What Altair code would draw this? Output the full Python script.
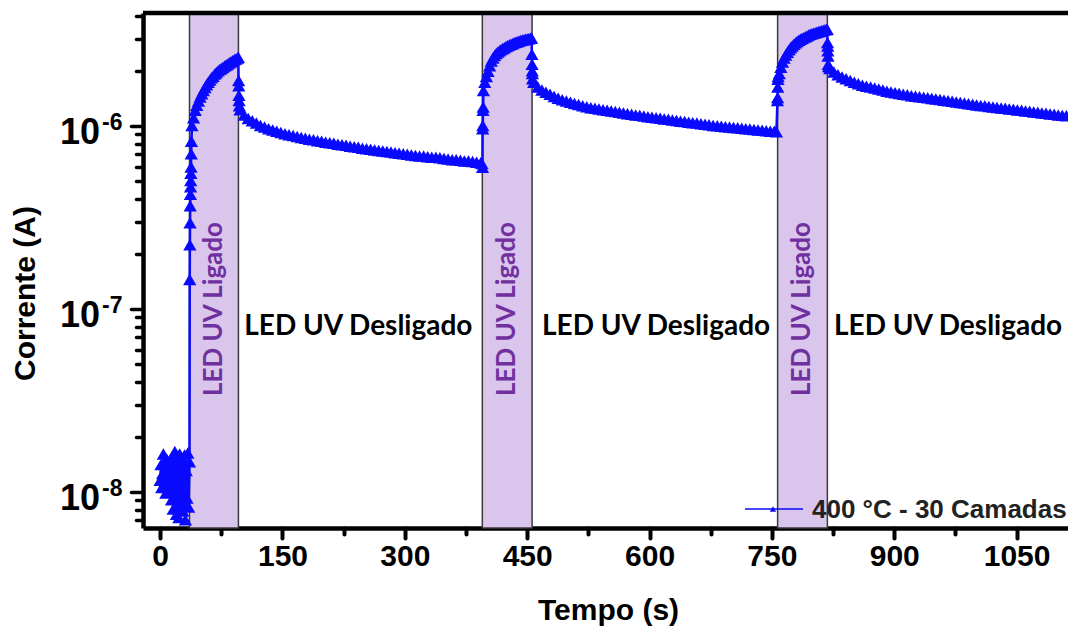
import numpy as np
import pandas as pd
import altair as alt

SERIE = "400 °C - 30 Camadas"
BLUE = "#0a0aff"
PURPLE = "#7030a0"

# ---------------------------------------------------------------------------
# Photocurrent record, time in s and current in µA
# ---------------------------------------------------------------------------
# dark current before the first UV pulse
t_dark = np.arange(0, 37, 1.0)
i_dark = [0.0115, 0.0140, 0.0105, 0.0125, 0.0160, 0.0110, 0.0130, 0.0098, 0.0150, 0.0120,
          0.0135, 0.0102, 0.0145, 0.0118, 0.0090, 0.0155, 0.0080, 0.0125, 0.0165, 0.0095,
          0.0075, 0.0140, 0.0110, 0.0072, 0.0160, 0.0100, 0.0085, 0.0150, 0.0078, 0.0120,
          0.0158, 0.0070, 0.0130, 0.0092, 0.0162, 0.0082, 0.0145]

# pulse 1 : LED switched on
t_jump1 = [36.3, 36.5, 36.7, 36.9, 37.1, 37.3, 37.5, 37.7, 37.9, 38.1, 38.4]
i_jump1 = [0.144, 0.223, 0.294, 0.364, 0.420, 0.462, 0.500, 0.548, 0.593, 0.70, 0.82]
t_rise1 = np.arange(39, 96, 2)
i_rise1 = [1.00, 1.10, 1.21, 1.29, 1.36, 1.43, 1.49, 1.55, 1.61, 1.67,
           1.72, 1.77, 1.82, 1.86, 1.91, 1.95, 1.99, 2.02, 2.05, 2.08,
           2.11, 2.14, 2.17, 2.20, 2.23, 2.26, 2.29, 2.31, 2.34]
# pulse 1 : LED switched off
t_drop1 = [95.8, 96.2, 96.4, 96.6, 96.8, 97.1]
i_drop1 = [2.36, 1.76, 1.65, 1.46, 1.37, 1.28]
t_decay1 = np.arange(98, 394, 5)
i_decay1 = [1.22, 1.14, 1.09, 1.06, 1.03, 1.00, 0.98, 0.96, 0.945, 0.93,
            0.915, 0.90, 0.89, 0.88, 0.87, 0.86, 0.85, 0.84, 0.835, 0.825,
            0.82, 0.81, 0.805, 0.80, 0.79, 0.785, 0.78, 0.77, 0.765, 0.76,
            0.75, 0.745, 0.74, 0.735, 0.73, 0.725, 0.72, 0.715, 0.71, 0.705,
            0.70, 0.695, 0.69, 0.685, 0.68, 0.68, 0.675, 0.67, 0.67, 0.665,
            0.66, 0.655, 0.65, 0.65, 0.645, 0.64, 0.64, 0.635, 0.63, 0.625]

# pulse 2
t_jump2 = [394.6, 395.2, 395.4, 395.6, 395.8, 396.0, 396.3]
i_jump2 = [0.62, 0.59, 0.96, 1.00, 1.21, 1.26, 1.55]
t_rise2 = np.arange(398, 455, 2)
i_rise2 = [1.72, 1.85, 1.98, 2.12, 2.25, 2.34, 2.41, 2.47, 2.52, 2.56,
           2.60, 2.63, 2.66, 2.70, 2.73, 2.75, 2.78, 2.80, 2.83, 2.85,
           2.87, 2.89, 2.91, 2.93, 2.94, 2.96, 2.97, 2.98, 3.00]
t_drop2 = [455.3, 455.8, 456.0, 456.2, 456.4, 456.6]
i_drop2 = [3.01, 2.45, 2.16, 1.99, 1.92, 1.80]
t_decay2 = np.arange(458, 754, 5)
i_decay2 = [1.72, 1.62, 1.56, 1.52, 1.48, 1.44, 1.41, 1.38, 1.36, 1.34,
            1.32, 1.30, 1.28, 1.265, 1.25, 1.24, 1.23, 1.22, 1.21, 1.20,
            1.19, 1.18, 1.17, 1.16, 1.15, 1.14, 1.135, 1.125, 1.115, 1.11,
            1.10, 1.095, 1.085, 1.08, 1.07, 1.065, 1.055, 1.05, 1.04, 1.035,
            1.03, 1.02, 1.015, 1.01, 1.00, 0.995, 0.99, 0.985, 0.98, 0.975,
            0.97, 0.965, 0.96, 0.955, 0.95, 0.945, 0.94, 0.935, 0.93, 0.93]

# pulse 3
t_jump3 = [755.5, 756.8, 757.0, 757.2, 757.4, 757.7]
i_jump3 = [0.925, 1.37, 1.42, 1.62, 1.79, 1.85]
t_rise3 = np.arange(759, 818, 2)
i_rise3 = [1.92, 2.08, 2.22, 2.34, 2.43, 2.51, 2.59, 2.66, 2.72, 2.78,
           2.83, 2.88, 2.92, 2.96, 2.99, 3.02, 3.05, 3.08, 3.12, 3.15,
           3.17, 3.19, 3.21, 3.23, 3.25, 3.27, 3.29, 3.31, 3.33, 3.35]
t_drop3 = [817.8, 818.2, 818.4, 818.6, 818.8, 819.0, 819.5]
i_drop3 = [3.36, 2.84, 2.72, 2.56, 2.40, 2.16, 2.10]
t_decay3 = np.arange(821, 1112, 5)
i_decay3 = [2.05, 1.96, 1.89, 1.84, 1.80, 1.76, 1.72, 1.69, 1.66, 1.64,
            1.62, 1.60, 1.58, 1.56, 1.54, 1.525, 1.51, 1.495, 1.48, 1.47,
            1.455, 1.445, 1.435, 1.425, 1.415, 1.405, 1.395, 1.385, 1.375, 1.365,
            1.355, 1.345, 1.335, 1.325, 1.315, 1.305, 1.295, 1.285, 1.28, 1.27,
            1.26, 1.255, 1.245, 1.24, 1.23, 1.225, 1.215, 1.21, 1.20, 1.195,
            1.185, 1.18, 1.17, 1.165, 1.155, 1.15, 1.14, 1.135, 1.13]

# UV LED on-windows (s)
on_start = [36, 395, 757]
on_end = [96, 456, 818]

# annotation texts
on_label = "LED UV Ligado"
off_label = "LED UV Desligado"
off_label_x = [243, 608, 966]
off_label_y = 8.0e-8
on_label_y = 1.0e-7

# axis ticks
x_ticks = list(range(0, 1051, 75))
y_decades = [1e-8, 1e-7, 1e-6]
y_exponents = ["-8", "-7", "-6"]
y_ticks = [m * 1e-9 for m in (7, 8, 9)] + \
          [m * 1e-8 for m in range(1, 10)] + \
          [m * 1e-7 for m in range(1, 10)] + \
          [m * 1e-6 for m in range(1, 5)]

# ---------------------------------------------------------------------------
t_all = np.concatenate([t_dark, t_jump1, t_rise1, t_drop1, t_decay1,
                        t_jump2, t_rise2, t_drop2, t_decay2,
                        t_jump3, t_rise3, t_drop3, t_decay3])
i_all = np.concatenate([i_dark, i_jump1, i_rise1, i_drop1, i_decay1,
                        i_jump2, i_rise2, i_drop2, i_decay2,
                        i_jump3, i_rise3, i_drop3, i_decay3]) * 1e-6
df = pd.DataFrame({"tempo": t_all, "corrente": i_all, "serie": SERIE})

shade_df = pd.DataFrame({"start": on_start, "end": on_end})
on_text_df = pd.DataFrame({"x": [(a + b) / 2 for a, b in zip(on_start, on_end)],
                           "y": [on_label_y] * 3, "label": [on_label] * 3})
off_text_df = pd.DataFrame({"x": off_label_x, "y": [off_label_y] * 3,
                            "label": [off_label] * 3})
ytick_df = pd.DataFrame({"value": y_decades, "exp": y_exponents})
one_row = pd.DataFrame({"serie": [SERIE]})

W, H = 925, 515
FONT = "Liberation Sans"

x_scale = alt.Scale(domain=[-21, 1113], nice=False, zero=False)
y_scale = alt.Scale(type="log", domain=[6.35e-9, 4.15e-6], nice=False)

x_axis = alt.Axis(
    title="Tempo (s)", values=x_ticks, format="d",
    labelExpr="datum.value % 150 === 0 ? datum.label : ''",
    labelFont=FONT, labelFontSize=30, labelFontWeight="bold", labelColor="black",
    labelPadding=3, labelOverlap=False, labelFlush=False,
    tickSize={"condition": {"test": "datum.value % 150 === 0", "value": 10}, "value": 6},
    tickWidth=4, tickColor="black", tickCap="round",
    domainColor="black", domainWidth=4.5, grid=False,
    titleFont=FONT, titleFontSize=30, titleFontWeight="bold", titleColor="black",
    titleX=465, titleY=91, titleBaseline="alphabetic", titleAlign="center",
)
decade_test = "abs(log(datum.value)/LN10 - round(log(datum.value)/LN10)) < 0.001"
y_axis = alt.Axis(
    title="Corrente (A)", values=y_ticks, labels=False,
    tickSize={"condition": {"test": decade_test, "value": 12}, "value": 7},
    tickWidth=3.5, tickColor="black", tickCap="round",
    domainColor="black", domainWidth=4.5, grid=False,
    titleFont=FONT, titleFontSize=30, titleFontWeight="bold", titleColor="black",
    titleX=-118, titleY=280, titleAngle=270, titleBaseline="middle", titleAlign="center",
)

X = lambda f: alt.X(f, scale=x_scale, axis=x_axis)
Y = lambda f: alt.Y(f, scale=y_scale, axis=y_axis)

shade = alt.Chart(shade_df).mark_rect(
    fill="#dac6ec", stroke="#3a3a3a", strokeWidth=1.5
).encode(x=X("start:Q"), x2="end:Q")

curve = alt.Chart(df).mark_line(
    color=BLUE, strokeWidth=2.5,
    point=alt.OverlayMarkDef(shape="triangle-up", filled=True, size=80, color=BLUE,
                             stroke=BLUE, strokeWidth=2.5),
).encode(x=X("tempo:Q"), y=Y("corrente:Q"), order="tempo:Q")

on_text = alt.Chart(on_text_df).mark_text(
    angle=270, align="center", baseline="middle", font="Lato", fontWeight="bold",
    fontSize=26, color=PURPLE,
).encode(x=X("x:Q"), y=Y("y:Q"), text="label:N")

off_text = alt.Chart(off_text_df).mark_text(
    align="center", baseline="middle", font="Lato", fontWeight="bold",
    fontSize=28, color="black",
).encode(x=X("x:Q"), y=Y("y:Q"), text="label:N")

# y tick labels written as 10 with a raised exponent
ten = alt.Chart(ytick_df).mark_text(
    align="right", baseline="middle", font=FONT, fontWeight="bold", fontSize=36,
    color="black", dy=7,
).encode(y=Y("value:Q"), x=alt.value(-43), text=alt.value("10"))
sup = alt.Chart(ytick_df).mark_text(
    align="left", baseline="middle", font=FONT, fontWeight="bold", fontSize=23,
    color="black", dy=-3,
).encode(y=Y("value:Q"), x=alt.value(-41), text="exp:N")

# upper frame line
top_line = alt.Chart(one_row).mark_rule(color="black", strokeWidth=4.5).encode(
    x=alt.value(0), x2=alt.value(W), y=alt.value(0))

# legend entry
leg_line = alt.Chart(one_row).mark_rule(color=BLUE, strokeWidth=1.5).encode(
    x=alt.value(602), x2=alt.value(660), y=alt.value(496))
leg_mark = alt.Chart(one_row).mark_point(
    shape="triangle-up", filled=True, size=40, color=BLUE, opacity=1
).encode(x=alt.value(630), y=alt.value(496))
leg_text = alt.Chart(one_row).mark_text(
    align="left", baseline="middle", font=FONT, fontWeight="bold", fontSize=26,
    color="#222222",
).encode(x=alt.value(669), y=alt.value(497), text="serie:N")

chart = alt.layer(
    shade, curve, on_text, off_text, ten, sup, top_line, leg_line, leg_mark, leg_text
).properties(
    width=W, height=H,
    padding={"left": 143, "top": 13, "right": 0, "bottom": 107},
    autosize=alt.AutoSizeParams(type="none"),
    background="white",
).configure_view(stroke=None)

chart.save("out.html", embed_options={"renderer": "svg", "actions": False})
